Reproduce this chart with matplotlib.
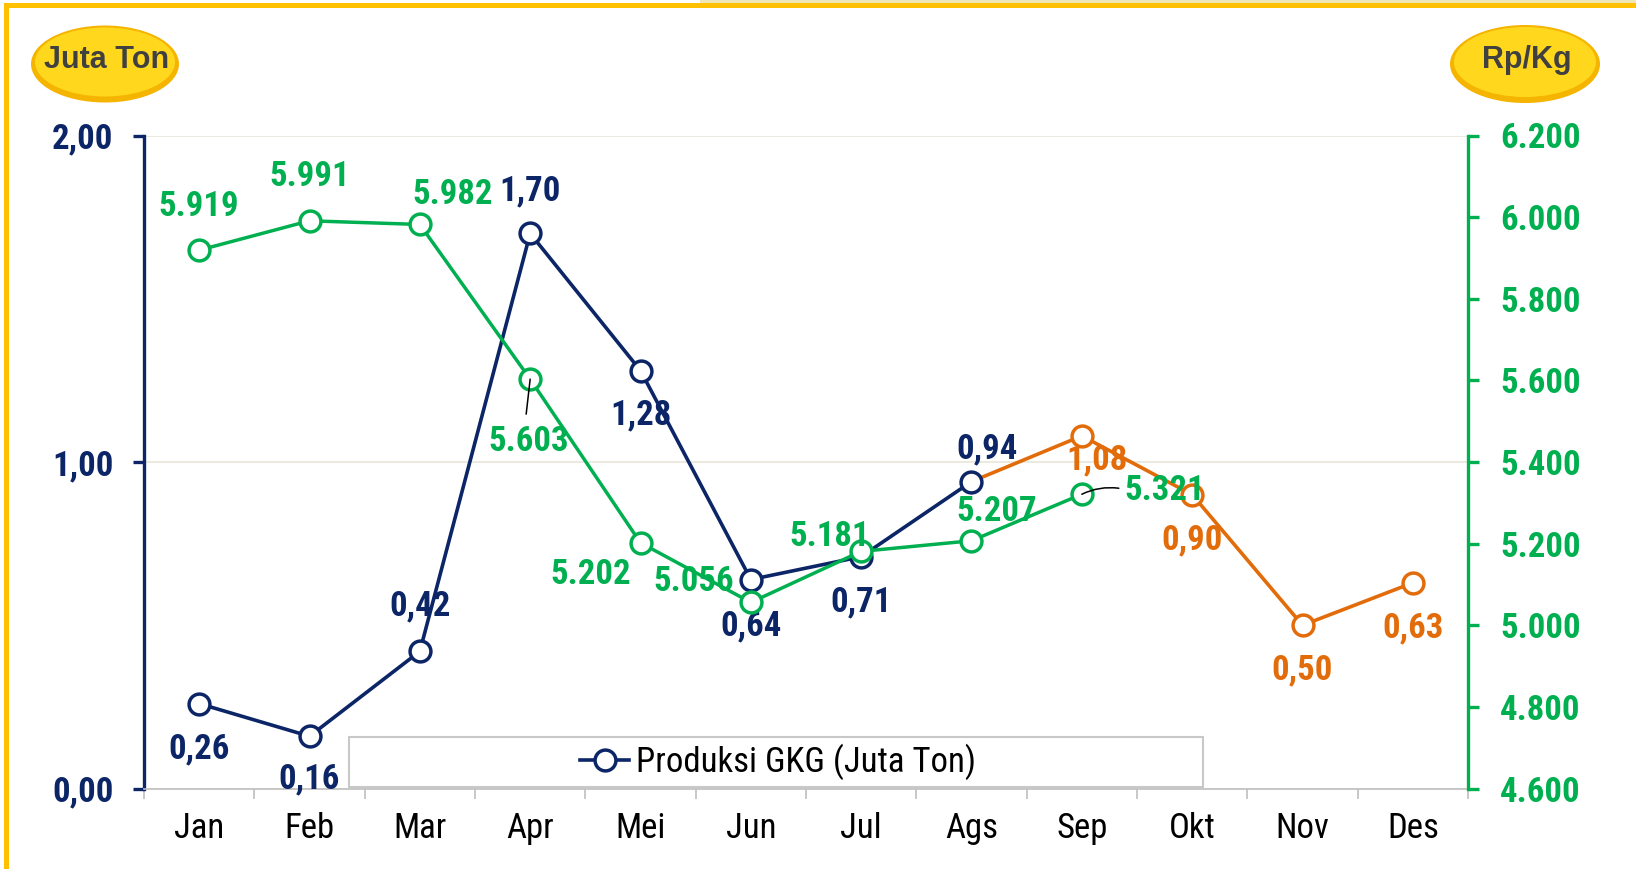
import numpy as np
import matplotlib
matplotlib.use("Agg")
import matplotlib.pyplot as plt
from matplotlib.patches import Ellipse, Rectangle
from matplotlib.ticker import FixedLocator, FuncFormatter

plt.rcParams['font.family'] = ['Roboto Condensed', 'Liberation Sans', 'DejaVu Sans']

# Monthly data (production in million tonnes, price in Rp/Kg)
bulan = ['Jan', 'Feb', 'Mar', 'Apr', 'Mei', 'Jun', 'Jul', 'Ags', 'Sep', 'Okt', 'Nov', 'Des']
produksi = [0.26, 0.16, 0.42, 1.70, 1.28, 0.64, 0.71, 0.94]          # Jan - Ags
produksi_ramalan = [1.08, 0.90, 0.50, 0.63]                          # Sep - Des
harga = [5919, 5991, 5982, 5603, 5202, 5056, 5181, 5207, 5321]        # Jan - Sep

NAVY = '#0B2566'
GREEN = '#00B050'
ORANGE = '#E36C0A'
GOLD = '#FFC000'

W, H = 1636, 869
fig = plt.figure(figsize=(W / 100, H / 100), dpi=100)
ax = fig.add_axes([144 / W, 80.5 / H, (1468 - 144) / W, 653 / H])
ax2 = ax.twinx()

x_prod = np.arange(len(produksi))
x_fc = np.arange(len(produksi) - 1, len(produksi) + len(produksi_ramalan))
y_fc = [produksi[-1]] + produksi_ramalan
x_harga = np.arange(len(harga))

mk = dict(marker='o', markersize=15, markerfacecolor='white', markeredgewidth=2.5)
ax.plot(x_fc, y_fc, color=ORANGE, lw=2.6, markeredgecolor=ORANGE,
        markevery=list(range(1, len(y_fc))), zorder=3, **mk)
line_prod, = ax.plot(x_prod, produksi, color=NAVY, lw=2.6, markeredgecolor=NAVY,
                     zorder=4, label='Produksi GKG (Juta Ton)', **mk)
ax2.plot(x_harga, harga, color=GREEN, lw=2.5, markeredgecolor=GREEN, zorder=3, **mk)

ax.set_xlim(-0.5, 11.5)
ax.set_ylim(0, 2)
ax2.set_ylim(4600, 6200)

# axes styling
for s in ['top', 'right']:
    ax.spines[s].set_visible(False)
for s in ['top', 'left', 'bottom']:
    ax2.spines[s].set_visible(False)
ax.spines['left'].set_color(NAVY)
ax.spines['left'].set_linewidth(2.4)
ax.spines['bottom'].set_color('#BFBFBF')
ax.spines['bottom'].set_linewidth(1.2)
ax2.spines['right'].set_color(GREEN)
ax2.spines['right'].set_linewidth(2.4)

ax.set_yticks([0, 1, 2])
ax.yaxis.set_major_formatter(FuncFormatter(lambda v, p: f'{v:.2f}'.replace('.', ',')))
ax.tick_params(axis='y', direction='out', length=8, width=2.4, color=NAVY,
               labelcolor=NAVY, labelsize=25, pad=14)
ax2.set_yticks(np.arange(4600, 6201, 200))
ax2.yaxis.set_major_formatter(FuncFormatter(lambda v, p: f'{int(v):,}'.replace(',', '.')))
ax2.tick_params(axis='y', direction='out', length=8, width=2.4, color=GREEN,
                labelcolor=GREEN, labelsize=25, pad=15)
for lbl in ax.get_yticklabels() + ax2.get_yticklabels():
    lbl.set_fontweight('bold')

ax.set_xticks(range(len(bulan)))
ax.set_xticklabels(bulan)
ax.xaxis.set_minor_locator(FixedLocator(np.arange(-0.5, 12, 1)))
ax.tick_params(axis='x', which='major', length=0, labelsize=25, pad=17, labelcolor='black')
ax.tick_params(axis='x', which='minor', length=7.5, width=1.2, color='#BFBFBF')

ax.set_axisbelow(True)
ax.yaxis.grid(True, color='#E9E5D8', lw=1.2)

# data labels (offsets in pixels)
lbl_style = dict(textcoords='offset pixels', ha='center', va='center',
                 fontsize=25, fontweight='bold', zorder=6)
off_prod = [(0, -45), (0, -43), (0, 45), (0, 43), (0, -44), (0, -46), (0, -45), (16, 33)]
for i, (v, o) in enumerate(zip(produksi, off_prod)):
    ax.annotate(f'{v:.2f}'.replace('.', ','), (i, v), xytext=o, color=NAVY, **lbl_style)

off_fc = [(15, -24), (0, -45), (0, -45), (0, -45)]
for i, (v, o) in enumerate(zip(produksi_ramalan, off_fc)):
    ax.annotate(f'{v:.2f}'.replace('.', ','), (len(produksi) + i, v), xytext=o,
                color=ORANGE, **lbl_style)

off_harga = [(0, 44), (0, 44), (33, 30), (-1, -62), (-50, -32), (-57, 21), (-32, 15),
             (25, 29), (83, 4)]
for i, (v, o) in enumerate(zip(harga, off_harga)):
    ax2.annotate(f'{v:,}'.replace(',', '.'), (i, v), xytext=o, color=GREEN, **lbl_style)

# leader lines for two price labels
ax2.annotate('', (3, harga[3]), xytext=(-4, -35), textcoords='offset pixels',
             arrowprops=dict(arrowstyle='-', color='black', lw=1.1, shrinkA=0, shrinkB=0),
             zorder=7)
ax2.annotate('', (8, harga[8]), xytext=(37, 6), textcoords='offset pixels',
             arrowprops=dict(arrowstyle='-', color='black', lw=1.1, shrinkA=0, shrinkB=0,
                             connectionstyle='arc3,rad=0.15'),
             zorder=7)

# overlay in pixel coordinates for frame, unit badges and legend box
ov = fig.add_axes([0, 0, 1, 1])
ov.set_xlim(0, W)
ov.set_ylim(H, 0)
ov.axis('off')

ov.add_patch(Rectangle((700, 0), W - 700, 3, color='#EFE6B8', lw=0))
ov.add_patch(Rectangle((4, 3), W, 5, color=GOLD, lw=0))
ov.add_patch(Rectangle((4, 3), 5, H, color=GOLD, lw=0))

for (cx, cy, w, h, txt) in [(105, 63, 148, 77, 'Juta Ton'), (1525, 63, 150, 78, 'Rp/Kg')]:
    ov.add_patch(Ellipse((cx, cy + 1), w, h, color='#F5B400', lw=0))
    ov.add_patch(Ellipse((cx, cy - 1), w - 8, h - 8, color='#FFD81E', lw=0))
    ov.text(cx + 2, cy - 3, txt, ha='center', va='center', fontsize=22, fontweight='bold',
            color='#404040', family=['Liberation Sans', 'DejaVu Sans'])

ov.add_patch(Rectangle((349, 737), 854, 50, facecolor='white', edgecolor='#C8C8C8', lw=1.5))
ov.legend(handles=[line_prod], loc='center', bbox_to_anchor=(778 / W, 1 - 762 / H),
          bbox_transform=fig.transFigure, frameon=False, fontsize=25,
          handlelength=1.4, handletextpad=0.2, borderpad=0)

fig.savefig('out.png', dpi=100)
